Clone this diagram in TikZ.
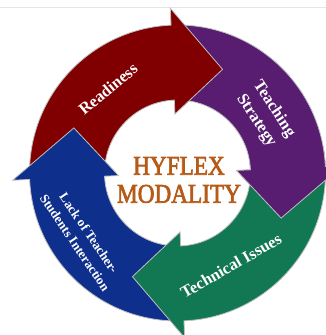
\documentclass[tikz,border=0pt]{standalone}
\usepackage{fontspec}
\setmainfont{Liberation Serif}
\newfontfamily\hubfont[FakeStretch=0.86,FakeBold=2.5]{Liberation Serif}
\usetikzlibrary{positioning}
\definecolor{rdy}{RGB}{128,0,2}
\definecolor{tch}{RGB}{88,28,112}
\definecolor{tec}{RGB}{18,120,84}
\definecolor{lck}{RGB}{14,48,140}
\definecolor{hyf}{RGB}{182,90,24}
\tikzset{
    arr/.style = {draw=black!25, line width=0.8pt, line join=miter},
    arrr/.style = {arr, fill=rdy},
    arrp/.style = {arr, fill=tch},
    arrg/.style = {arr, fill=tec},
    arrb/.style = {arr, fill=lck},
    lbl/.style = {text=white, align=center, font=\bfseries\fontsize{16.5}{21}\selectfont},
    lbls/.style = {text=white, align=center, font=\bfseries\fontsize{13}{17}\selectfont},
    hub/.style = {text=hyf, align=center, inner sep=0pt, font=\hubfont\fontsize{27}{28}\selectfont}
}
% ring radii, barbs and tip
\newcommand{\Rout}{148}
\newcommand{\Rin}{73}
\newcommand{\Rbo}{165}
\newcommand{\Rbi}{59}
\newcommand{\Rtip}{113}
% #1 style, #2 tail angle, #3 angle where the head starts
\newcommand{\ringarrow}[3]{%
  \path[#1] (#2:\Rout) arc[start angle=#2, end angle=#3, radius=\Rout]
    -- (#3:\Rbo) -- ({#3-26}:\Rtip) -- (#3:\Rbi) -- (#3:\Rin)
    arc[start angle=#3, end angle=#2, radius=\Rin] -- cycle;}

\begin{document}
\begin{tikzpicture}[x=1pt,y=1pt]
\useasboundingbox (-177.5,-162) rectangle (148.5,173);
\draw[black!10, line width=0.8pt] (-177.5,166) -- (148.5,166);
%
\ringarrow{arrp}{88}{2.5}
\ringarrow{arrr}{178}{92.5}
\ringarrow{arrb}{268}{182.5}
\ringarrow{arrg}{-2}{-87.5}
\begin{scope}
  \clip (0,0) -- (10:220) arc[start angle=10, end angle=-40, radius=220] -- cycle;
  \ringarrow{arrp}{88}{2.5}
\end{scope}
%
\node[lbl, rotate=39.6] at (129.6:109) (rd) {Readiness};
\node[lbl, rotate=-56.5] at (33.5:105) (ts) {Teaching\\Strategy};
\node[lbl, rotate=30] at (-60:107) (ti) {Technical Issues};
\node[lbls, rotate=-55.8] at (214.2:115.5) (lk) {Lack of Teacher-\\Students Interaction};
\node[hub] at (1.5,-7) (hub) {HYFLEX\\MODALITY};

\end{tikzpicture}
\end{document}
